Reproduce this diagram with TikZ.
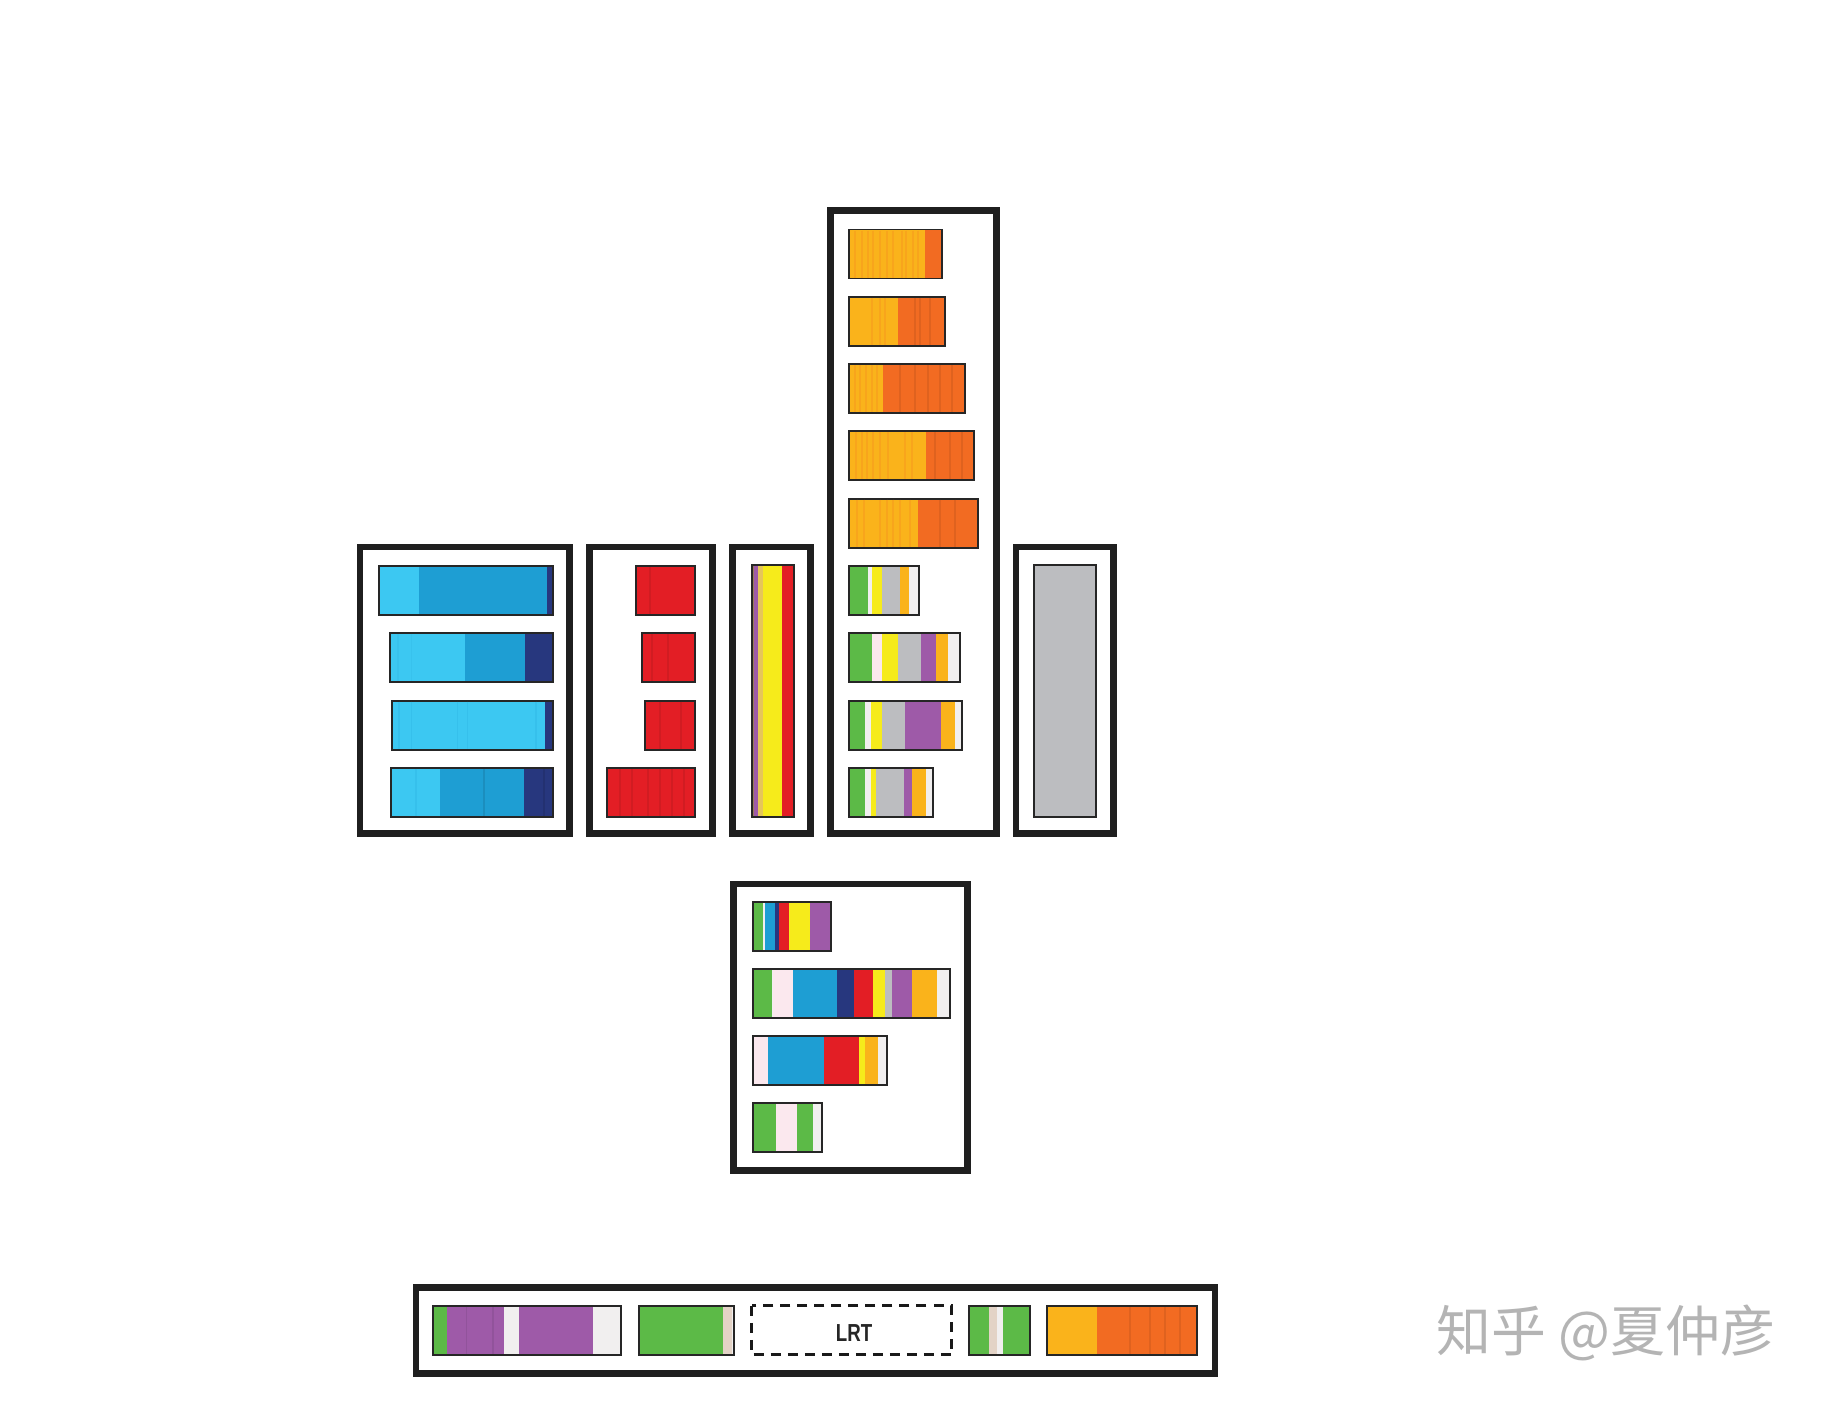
\documentclass[tikz,border=0pt]{standalone}
\usepackage{fontspec}
\newfontfamily\cjk{Noto Sans CJK SC}
\newfontfamily\lrtfont{Liberation Sans}
\definecolor{lightBlue}{HTML}{3CC8F2}
\definecolor{midBlue}{HTML}{1E9ED3}
\definecolor{navyBlue}{HTML}{27377E}
\definecolor{redC}{HTML}{E31E25}
\definecolor{yellowC}{HTML}{F6EB1B}
\definecolor{purpleC}{HTML}{9E5AA8}
\definecolor{goldC}{HTML}{FAB31B}
\definecolor{orangeC}{HTML}{F26B22}
\definecolor{greenC}{HTML}{5CBA47}
\definecolor{grayC}{HTML}{BCBDC0}
\definecolor{pinkC}{HTML}{FBE8EE}
\definecolor{beigeC}{HTML}{E3D3C6}
\definecolor{whiteC}{HTML}{F1EFEF}
\definecolor{tanC}{HTML}{E6C659}
\definecolor{brownC}{HTML}{9C7A5A}
\definecolor{markGray}{HTML}{B4B4B4}
\tikzset{
	boxframe/.style={draw=black!88, line width=1.85pt},
	barline/.style={draw=black!85, line width=0.55pt},
	streak/.style={line width=0.3pt},
	lrtbox/.style={draw=black!90, line width=0.85pt, dash pattern=on 0.1cm off 0.07cm},
	lrtlabel/.style={font=\lrtfont\bfseries\fontsize{7}{8}\selectfont, text=black!85, xscale=0.76, inner sep=0},
	zhmark/.style={font=\cjk\fontsize{15.6}{18}\selectfont, text=markGray, inner sep=0}
}
% #1 top, #2 left, #3 right, #4 from/to/colour
\newcommand{\segbar}[4]{%
	\foreach \a/\b/\c in {#4} \fill[\c] (\a,#1) rectangle (\b,#1+49);
	\draw[barline] (#2,#1) rectangle (#3,#1+49);
}
% #1 top, #2 colour, #3 x list
\newcommand{\streaks}[3]{%
	\foreach \x in {#3} \draw[streak,#2] (\x,#1+1) -- (\x,#1+48);
}

\begin{document}
\begin{tikzpicture}[x=0.01cm, y=-0.01cm]
	\path[use as bounding box, fill=white] (0,0) rectangle (1823,1408);
	
	% frames
	\draw[boxframe] (360,547) rectangle (569.4,833.5);
	\draw[boxframe] (589.3,547) rectangle (712.7,833.5);
	\draw[boxframe] (732.6,547) rectangle (810.7,833.5);
	\draw[boxframe] (830.6,210.5) rectangle (996.7,833.5);
	\draw[boxframe] (1016,547) rectangle (1113.4,833.5);
	\draw[boxframe] (733.3,884) rectangle (967.5,1170.7);
	\draw[boxframe] (416,1287.5) rectangle (1215,1373.5);
	
	% blue
	\segbar{566}{379.3}{552.7}{379.3/419/lightBlue, 419/547/midBlue, 547/552.7/navyBlue}
	\segbar{633.3}{390}{553.3}{390/465/lightBlue, 465/525/midBlue, 525/553.3/navyBlue}
	\streaks{633.3}{lightBlue!85!midBlue}{398, 411.7}
	\segbar{700.6}{392.3}{553.3}{392.3/545/lightBlue, 545/553.3/navyBlue}
	\streaks{700.6}{lightBlue!80!midBlue}{399, 411.7, 457.3, 467.3, 536}
	\segbar{767.9}{390.7}{553.3}{390.7/440/lightBlue, 440/524/midBlue, 524/553.3/navyBlue}
	\streaks{767.9}{lightBlue!80!midBlue}{416}
	\streaks{767.9}{midBlue!90!black}{484}
	\streaks{767.9}{navyBlue!90!black}{544}
	
	% red
	\segbar{566}{636}{695}{636/695/redC}
	\streaks{566}{redC!92!black}{650}
	\segbar{633.3}{642}{695}{642/695/redC}
	\streaks{633.3}{redC!92!black}{652, 668}
	\segbar{700.6}{645}{695}{645/695/redC}
	\streaks{700.6}{redC!92!black}{660, 681}
	\segbar{767.9}{606.7}{695}{606.7/695/redC}
	\streaks{767.9}{redC!92!black}{620, 632, 648, 660, 672, 684}
	
	% stripe
	\foreach \a/\b/\c in {751.7/754.3/brownC, 754.3/758.3/purpleC, 758.3/763.3/tanC, 763.3/782.3/yellowC, 782.3/794/redC}
		\fill[\c] (\a,565) rectangle (\b,817);
	\draw[barline] (751.7,565) rectangle (794,817);
	
	% orange
	\segbar{229.5}{849.3}{941.7}{849.3/925/goldC, 925/941.7/orangeC}
	\streaks{229.5}{goldC!80!orangeC}{855, 862, 868, 873, 880, 887, 893, 902, 906, 913, 918}
	\segbar{296.8}{849.3}{945}{849.3/898.3/goldC, 898.3/945/orangeC}
	\streaks{296.8}{goldC!80!orangeC}{872, 880, 885}
	\streaks{296.8}{orangeC!92!black}{915, 920, 930}
	\segbar{364.1}{849.3}{964.7}{849.3/883.3/goldC, 883.3/964.7/orangeC}
	\streaks{364.1}{goldC!80!orangeC}{855, 860, 866, 872, 877}
	\streaks{364.1}{orangeC!92!black}{900, 915, 928, 940, 952}
	\segbar{431.4}{849.3}{974.3}{849.3/926/goldC, 926/974.3/orangeC}
	\streaks{431.4}{goldC!80!orangeC}{856, 862, 867, 873, 880, 888, 905, 912}
	\streaks{431.4}{orangeC!92!black}{935, 950, 962}
	\segbar{498.7}{849.3}{977.7}{849.3/918.3/goldC, 918.3/977.7/orangeC}
	\streaks{498.7}{goldC!80!orangeC}{857, 864, 880, 887, 893, 900, 910}
	\streaks{498.7}{orangeC!92!black}{940, 955}
	
	% mixed
	\segbar{566}{849.3}{919}{849.3/867.7/greenC, 867.7/871.7/whiteC, 871.7/881.7/yellowC, 881.7/900/grayC, 900/909.3/goldC, 909.3/919/whiteC}
	\segbar{633.3}{849.3}{960}{849.3/871.7/greenC, 871.7/881.7/pinkC, 881.7/898.3/yellowC, 898.3/921/grayC, 921/936/purpleC, 936/948.3/goldC, 948.3/960/whiteC}
	\segbar{700.6}{849.3}{961.7}{849.3/865/greenC, 865/870.7/whiteC, 870.7/882.3/yellowC, 882.3/905/grayC, 905/941/purpleC, 941/955/goldC, 955/961.7/whiteC}
	\segbar{767.9}{849.3}{932.7}{849.3/865/greenC, 865/870.7/whiteC, 870.7/876/yellowC, 876/904/grayC, 904/912/purpleC, 912/926/goldC, 926/932.7/whiteC}
	
	% gray
	\draw[barline, fill=grayC] (1034.3,565.3) rectangle (1095.7,816.7);
	
	% lower
	\segbar{901.7}{752.7}{830.7}{752.7/763.3/greenC, 763.3/765/whiteC, 765/775/midBlue, 775/779.3/navyBlue, 779.3/789.3/redC, 789.3/810/yellowC, 810/830.7/purpleC}
	\segbar{969}{752.7}{950}{752.7/771.7/greenC, 771.7/773.3/whiteC, 773.3/792.7/pinkC, 792.7/836.7/midBlue, 836.7/854.3/navyBlue, 854.3/873.3/redC, 873.3/885/yellowC, 885/891.7/grayC, 891.7/911.7/purpleC, 911.7/936.7/goldC, 936.7/950/whiteC}
	\segbar{1036.3}{752.7}{886.7}{752.7/767.7/pinkC, 767.7/824.3/midBlue, 824.3/859.3/redC, 859.3/865/yellowC, 865/878.3/goldC, 878.3/886.7/whiteC}
	\segbar{1103.3}{752.7}{821.7}{752.7/776/greenC, 776/797.3/pinkC, 797.3/812.7/greenC, 812.7/821.7/whiteC}
	
	% bottom strip
	\segbar{1305.8}{433.3}{620.7}{433.3/446.7/greenC, 446.7/504/purpleC, 504/519/whiteC, 519/593.3/purpleC, 593.3/620.7/whiteC}
	\streaks{1305.8}{purpleC!92!black}{466.7, 493}
	\segbar{1305.8}{638.7}{734.3}{638.7/722.7/greenC, 722.7/731.7/beigeC, 731.7/734.3/whiteC}
	\draw[lrtbox] (751.7,1305.8) rectangle (951.7,1354.8);
	\node[lrtlabel] (lrt) at (854,1333) {LRT};
	\segbar{1305.8}{969.3}{1030}{969.3/989.3/greenC, 989.3/997.3/beigeC, 997.3/1003.3/whiteC, 1003.3/1030/greenC}
	\segbar{1305.8}{1047.3}{1196.7}{1047.3/1096.7/goldC, 1096.7/1196.7/orangeC}
	\streaks{1305.8}{orangeC!92!black}{1130, 1150, 1165, 1180}
	
	\node[zhmark] (zhihu) at (1606,1333) {知乎 @夏仲彦};
\end{tikzpicture}
\end{document}
